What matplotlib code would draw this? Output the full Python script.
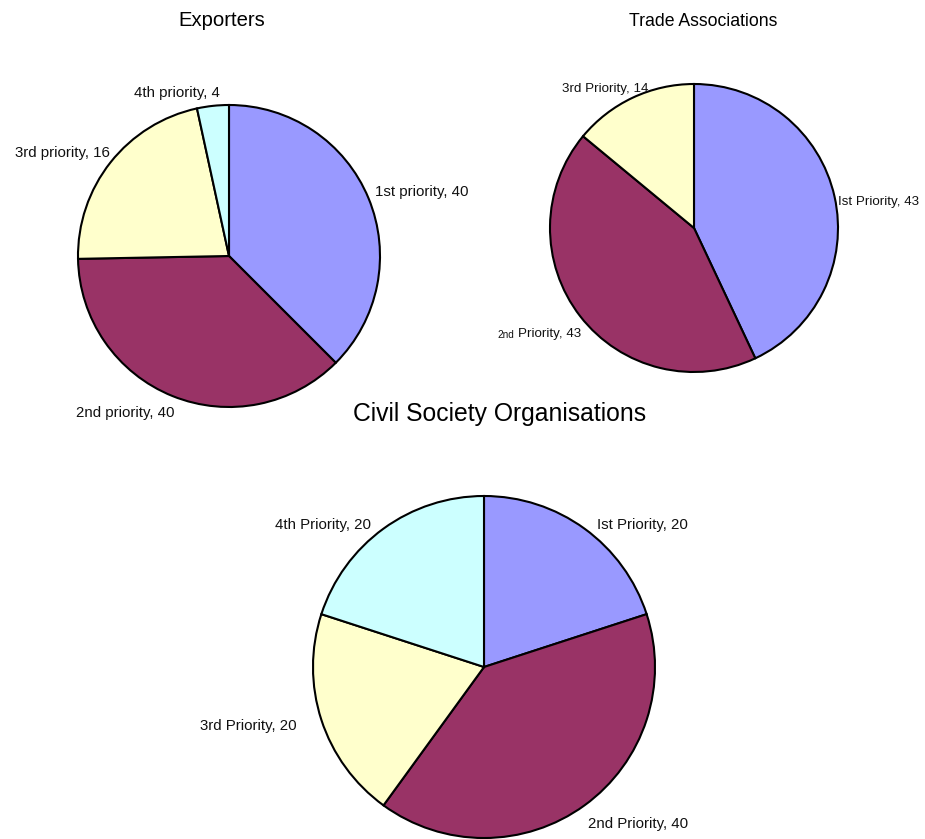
import matplotlib
matplotlib.use("Agg")
import matplotlib.pyplot as plt

plt.rcParams['font.family'] = ['Liberation Sans', 'DejaVu Sans']

W, H = 925, 839

# Exporters: stated values in the labels, slice shares as drawn
exp_names = ["1st priority", "2nd priority", "3rd priority", "4th priority"]
exp_values = [40, 40, 16, 4]
exp_shares = [37.5, 37.2, 21.9, 3.4]

# Trade Associations
ta_names = ["Ist Priority", "2nd Priority", "3rd Priority"]
ta_values = [43, 43, 14]

# Civil Society Organisations
cso_names = ["Ist Priority", "2nd Priority", "3rd Priority", "4th Priority"]
cso_values = [20, 40, 20, 20]

colors = ["#9999FF", "#993366", "#FFFFCC", "#CCFFFF"]

fig = plt.figure(figsize=(W / 100, H / 100), dpi=100)
fig.patch.set_facecolor("white")

LIM = 1.03


def px(x, y):
    return x / W, 1 - y / H


def pie_axes(cx, cy, r):
    half = r * LIM
    ax = fig.add_axes([(cx - half) / W, 1 - (cy + half) / H, 2 * half / W, 2 * half / H])
    return ax


def draw_pie(ax, sizes, n):
    ax.pie(sizes, colors=colors[:n], startangle=90, counterclock=False, radius=1,
           wedgeprops=dict(edgecolor="black", linewidth=1.5))
    # pie() resets the limits, so fix them afterwards
    ax.set_xlim(-LIM, LIM)
    ax.set_ylim(-LIM, LIM)
    ax.set_aspect("equal")
    ax.axis("off")


def label(x, y, text, size, ha="left"):
    # small downward nudge so caps sit where Excel put them
    fig.text(*px(x, y + 2), text, ha=ha, va="center", fontsize=size, color="#111111")


# Exporters
ax1 = pie_axes(229, 256, 151)
draw_pie(ax1, exp_shares, 4)
fig.text(*px(222, 20), "Exporters", ha="center", va="center", fontsize=14.6)
exp_pos = [(375, 190, "left"), (175, 411, "right"), (110, 151, "right"), (220, 91, "right")]
for name, val, (x, y, ha) in zip(exp_names, exp_values, exp_pos):
    label(x, y, f"{name}, {val}", 10.8, ha)

# Trade Associations
ax2 = pie_axes(694, 228, 144)
draw_pie(ax2, ta_values, 3)
fig.text(*px(703, 21), "Trade Associations", ha="center", va="center", fontsize=12.7)
label(838, 200, f"{ta_names[0]}, {ta_values[0]}", 9.6)
label(514, 333, "2nd", 7.2, "right")
label(518, 332, f"{ta_names[1].split(' ', 1)[1]}, {ta_values[1]}", 9.6)
label(648, 87, f"{ta_names[2]}, {ta_values[2]}", 9.6, "right")

# Civil Society Organisations
ax3 = pie_axes(484, 667, 171)
draw_pie(ax3, cso_values, 4)
fig.text(*px(500, 414), "Civil Society Organisations", ha="center", va="center", fontsize=17.8)
cso_pos = [(597, 523, "left"), (588, 822, "left"), (297, 724, "right"), (371, 523, "right")]
for name, val, (x, y, ha) in zip(cso_names, cso_values, cso_pos):
    label(x, y, f"{name}, {val}", 10.8, ha)

fig.savefig("out.png", dpi=100, facecolor="white")
